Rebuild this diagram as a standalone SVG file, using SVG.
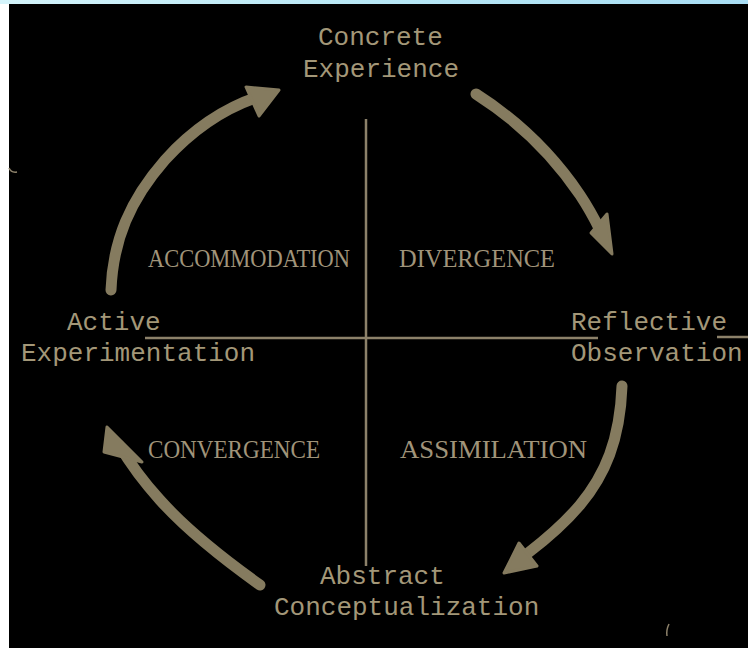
<svg xmlns="http://www.w3.org/2000/svg" width="748" height="648" viewBox="0 0 748 648">
  <defs>
    <linearGradient id="sky" x1="0" y1="0" x2="1" y2="0">
      <stop offset="0" stop-color="#d4f4fb"/>
      <stop offset="0.5" stop-color="#b8e8f6"/>
      <stop offset="1" stop-color="#a9def5"/>
    </linearGradient>
    <style>
      .lbl { font-family: "Liberation Mono", "DejaVu Sans Mono", monospace; font-size: 26px; fill: #a39778; }
      .quad { font-family: "Liberation Serif", "DejaVu Serif", serif; font-size: 26px; fill: #a0947a; }
      .axis { stroke: #8c816a; stroke-width: 2.5; fill: none; }
      .shaft { stroke: #857b5f; stroke-width: 11; fill: none; stroke-linecap: round; stroke-linejoin: round; }
      .head { fill: #857b5f; stroke: #857b5f; stroke-width: 3; stroke-linejoin: round; }
      .mark { stroke: #8c816a; stroke-width: 1.5; fill: none; }
    </style>
  </defs>

  <rect x="0" y="0" width="748" height="648" fill="url(#sky)"/>
  <rect x="0" y="4" width="9" height="644" fill="#ffffff"/>
  <rect x="9" y="4" width="739" height="644" fill="#000000"/>

  <g id="axes">
    <line class="axis" x1="366" y1="119" x2="366" y2="566"/>
    <line class="axis" x1="145" y1="338" x2="598" y2="338"/>
    <line class="axis" x1="717" y1="337" x2="748" y2="337"/>
  </g>

  <g id="connectors">
    <g id="arrow-active-to-concrete">
      <path class="shaft" d="M111,290 C113,240 130,200 165,160 C195,127 225,108 258,97"/>
      <polygon class="head" points="246,87 279,90 259,116"/>
    </g>
    <g id="arrow-concrete-to-reflective">
      <path class="shaft" d="M476,94 C520,122 555,158 580,195 C590,210 596,222 600,230"/>
      <polygon class="head" points="591,233 607,214 612,254"/>
    </g>
    <g id="arrow-reflective-to-abstract">
      <path class="shaft" d="M622,386 C620,440 605,475 580,505 C563,525 545,540 528,553"/>
      <polygon class="head" points="519,543 537,566 504,573"/>
    </g>
    <g id="arrow-abstract-to-active">
      <path class="shaft" d="M260,585 C225,560 185,528 160,500 C140,478 128,460 119,445"/>
      <polygon class="head" points="104,452 107,427 142,462"/>
    </g>
  </g>

  <g id="node-concrete-experience">
    <text class="lbl" x="318" y="45">Concrete</text>
    <text class="lbl" x="303" y="77">Experience</text>
  </g>
  <g id="node-reflective-observation">
    <text class="lbl" x="571" y="330">Reflective</text>
    <text class="lbl" x="571" y="361">Observation</text>
  </g>
  <g id="node-abstract-conceptualization">
    <text class="lbl" x="320" y="584">Abstract</text>
    <text class="lbl" x="274" y="615">Conceptualization</text>
  </g>
  <g id="node-active-experimentation">
    <text class="lbl" x="67" y="330">Active</text>
    <text class="lbl" x="21" y="361">Experimentation</text>
  </g>

  <g id="quadrants">
    <text class="quad" x="148" y="267" textLength="202" lengthAdjust="spacingAndGlyphs">ACCOMMODATION</text>
    <text class="quad" x="399" y="267" textLength="156" lengthAdjust="spacingAndGlyphs">DIVERGENCE</text>
    <text class="quad" x="148" y="458" textLength="172" lengthAdjust="spacingAndGlyphs">CONVERGENCE</text>
    <text class="quad" x="400" y="458" textLength="187" lengthAdjust="spacingAndGlyphs">ASSIMILATION</text>
  </g>

  <g id="marks">
    <path class="mark" d="M9,168 Q11,173 17,172"/>
    <path class="mark" d="M669,624 Q666,630 667,636"/>
  </g>
</svg>
